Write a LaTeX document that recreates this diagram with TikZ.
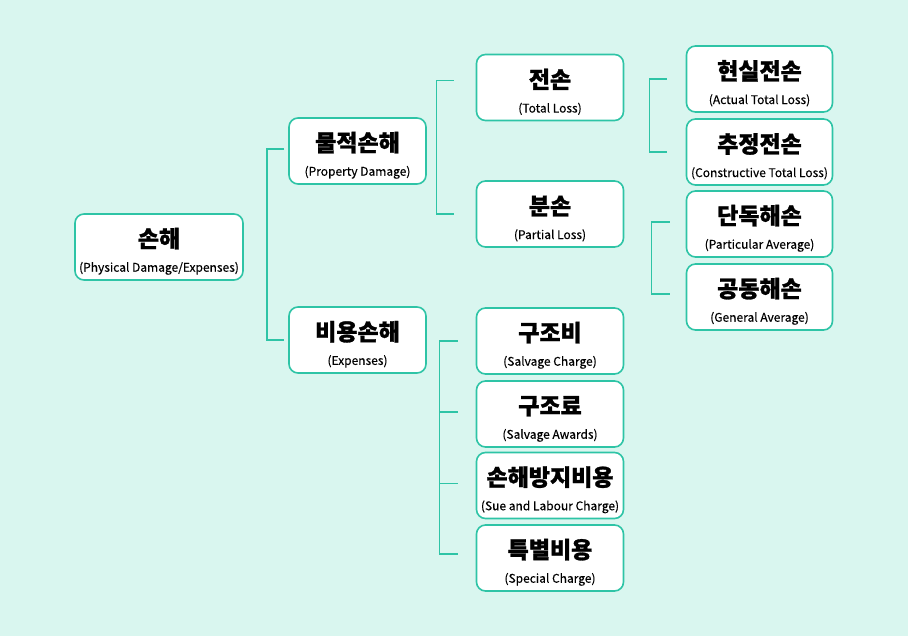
\documentclass[tikz,border=0pt]{standalone}
\usepackage{fontspec}
\setmainfont{Noto Sans CJK KR}[BoldFeatures={FakeBold=1.2}]
\usepackage{tikz}

\newcommand\kname[1]{{\fontsize{23}{23}\selectfont\bfseries\rule{0pt}{28pt}#1}}
\newcommand\ename[1]{{\fontsize{12}{12}\selectfont\addfontfeature{FakeBold=0.3}#1}}

\begin{document}
\begin{tikzpicture}[x=1pt,y=-1pt,
  box/.style={draw=cline,line width=1.6pt,fill=white,rounded corners=9pt,minimum height=66pt,
    align=center,inner sep=0pt,font=\fontsize{12}{24.5}\selectfont},
  link/.style={cline,line width=1.5pt}]
\definecolor{cbg}{RGB}{217,246,239}
\definecolor{cline}{RGB}{46,196,166}
\fill[cbg] (0,0) rectangle (908,636);
\useasboundingbox (0,0) rectangle (908,636);
\node[box,minimum width=168pt] (loss) at (159,247) {\kname{손해}\\\ename{(Physical Damage/Expenses)}};
\node[box,minimum width=137pt] (pd) at (357.5,151) {\kname{물적손해}\\\ename{(Property Damage)}};
\node[box,minimum width=137pt] (ex) at (357.5,340) {\kname{비용손해}\\\ename{(Expenses)}};
\node[box,minimum width=147pt] (tl) at (550,87.5) {\kname{전손}\\\ename{(Total Loss)}};
\node[box,minimum width=147pt] (pl) at (550,214) {\kname{분손}\\\ename{(Partial Loss)}};
\node[box,minimum width=146pt] (atl) at (759.5,79) {\kname{현실전손}\\\ename{(Actual Total Loss)}};
\node[box,minimum width=146pt] (ctl) at (759.5,152) {\kname{추정전손}\\\ename{(Constructive Total Loss)}};
\node[box,minimum width=146pt] (pa) at (759.5,224) {\kname{단독해손}\\\ename{(Particular Average)}};
\node[box,minimum width=146pt] (ga) at (759.5,297) {\kname{공동해손}\\\ename{(General Average)}};
\node[box,minimum width=147pt] (sc) at (550,341) {\kname{구조비}\\\ename{(Salvage Charge)}};
\node[box,minimum width=147pt] (sa) at (550,414) {\kname{구조료}\\\ename{(Salvage Awards)}};
\node[box,minimum width=147pt] (sl) at (550,485.5) {\kname{손해방지비용}\\\ename{(Sue and Labour Charge)}};
\node[box,minimum width=147pt] (spc) at (550,558) {\kname{특별비용}\\\ename{(Special Charge)}};
\draw[link] ([xshift=-4pt,yshift=2pt]pd.west) -- ++(-17,0) |- ([xshift=-4pt]ex.west);
\draw[link] ([xshift=-22pt,yshift=7pt]tl.west) -- ++(-17,0) |- ([xshift=-22pt]pl.west);
\draw[link] ([xshift=-19pt]atl.west) -- ++(-17,0) |- ([xshift=-19pt]ctl.west);
\draw[link] ([xshift=-16pt,yshift=2pt]pa.west) -- ++(-18,0) |- ([xshift=-16pt,yshift=3pt]ga.west);
\draw[link] ([xshift=-18pt]sc.west) -- ++(-18,0) |- ([xshift=-18pt,yshift=4pt]spc.west);
\draw[link] ([xshift=-18pt,yshift=2pt]sa.west) -- ++(-18,0);
\draw[link] ([xshift=-18pt,yshift=2pt]sl.west) -- ++(-18,0);
\end{tikzpicture}
\end{document}
